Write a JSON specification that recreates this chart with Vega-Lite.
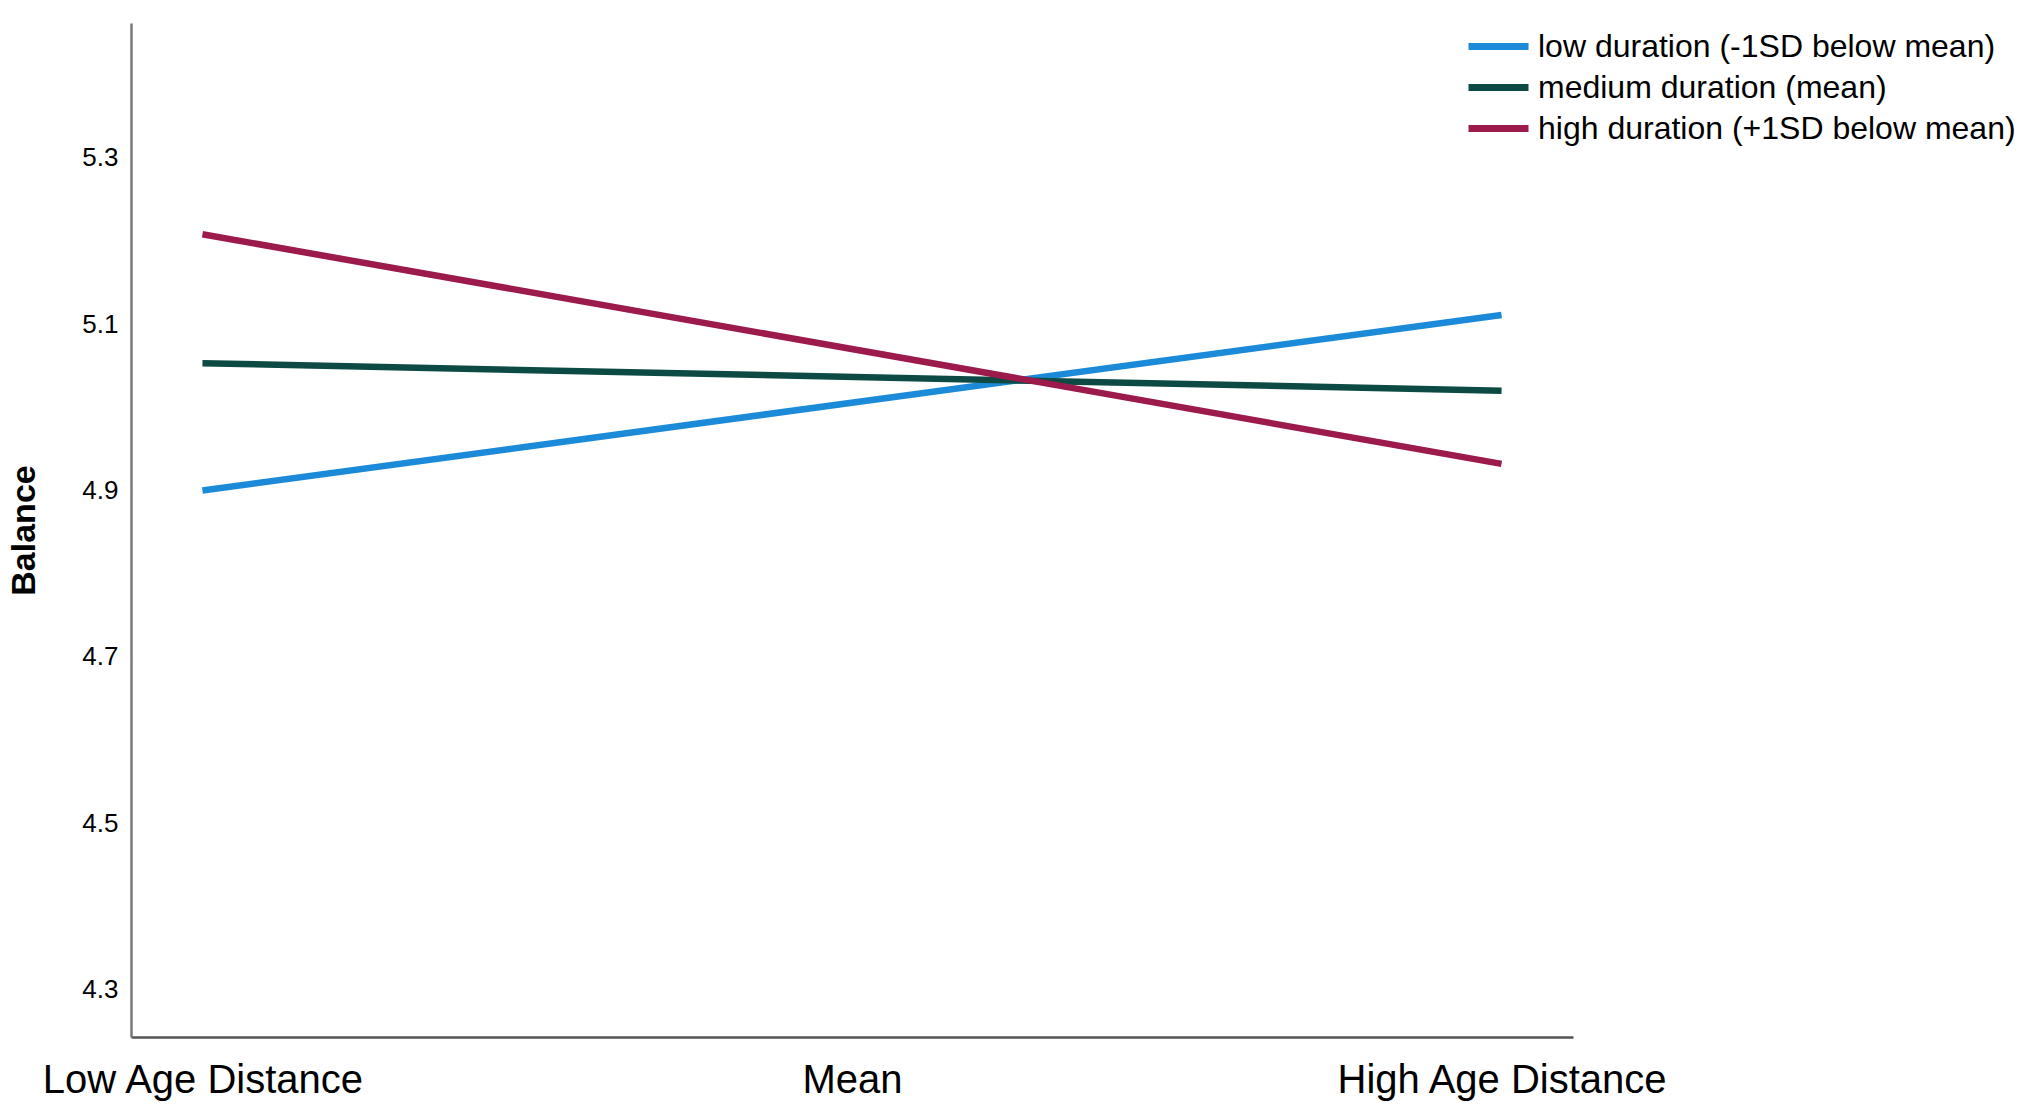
{
  "$schema": "https://vega.github.io/schema/vega-lite/v6.json",
  "autosize": "none",
  "width": 1442,
  "height": 1014,
  "padding": {"left": 131, "top": 23, "right": 459, "bottom": 70},
  "background": "white",
  "config": {
    "view": {"stroke": "transparent"},
    "font": "Liberation Sans"
  },
  "data": {
    "values": [
      {"age": "Low Age Distance", "group": "low duration (-1SD below mean)", "balance": 4.900},
      {"age": "High Age Distance", "group": "low duration (-1SD below mean)", "balance": 5.111},
      {"age": "Low Age Distance", "group": "medium duration (mean)", "balance": 5.053},
      {"age": "High Age Distance", "group": "medium duration (mean)", "balance": 5.020},
      {"age": "Low Age Distance", "group": "high duration (+1SD below mean)", "balance": 5.208},
      {"age": "High Age Distance", "group": "high duration (+1SD below mean)", "balance": 4.932}
    ]
  },
  "mark": {"type": "line", "strokeWidth": 6.5, "strokeCap": "butt"},
  "encoding": {
    "x": {
      "field": "age",
      "type": "ordinal",
      "scale": {"type": "point", "domain": ["Low Age Distance", "Mean", "High Age Distance"], "padding": 0.11},
      "axis": {
        "title": null,
        "labelAngle": 0,
        "labelFontSize": 40,
        "labelColor": "black",
        "labelPadding": 23,
        "labelLimit": 600,
        "labelOverlap": false,
        "ticks": false,
        "grid": false,
        "domainColor": "#555555",
        "domainWidth": 2.5
      }
    },
    "y": {
      "field": "balance",
      "type": "quantitative",
      "scale": {"domain": [4.243, 5.462], "nice": false, "zero": false},
      "axis": {
        "title": "Balance",
        "titleFontSize": 34,
        "titleFontWeight": "bold",
        "titleColor": "black",
        "titlePadding": 40,
        "values": [4.3, 4.5, 4.7, 4.9, 5.1, 5.3],
        "format": ".1f",
        "labelFontSize": 26,
        "labelColor": "black",
        "labelPadding": 13,
        "ticks": false,
        "grid": false,
        "domainColor": "#777777",
        "domainWidth": 2.5
      }
    },
    "color": {
      "field": "group",
      "type": "nominal",
      "sort": ["low duration (-1SD below mean)", "medium duration (mean)", "high duration (+1SD below mean)"],
      "scale": {
        "domain": ["low duration (-1SD below mean)", "medium duration (mean)", "high duration (+1SD below mean)"],
        "range": ["#1b8ad8", "#0d4a44", "#9c1a4c"]
      },
      "legend": {
        "title": null,
        "orient": "none",
        "legendX": 1349,
        "legendY": 5,
        "symbolType": "M-2,0H2",
        "symbolSize": 900,
        "symbolStrokeWidth": 7,
        "labelFontSize": 32,
        "labelColor": "black",
        "labelOffset": 21,
        "labelLimit": 600,
        "rowPadding": 6
      }
    },
    "order": {"field": "age", "sort": "descending"}
  }
}
